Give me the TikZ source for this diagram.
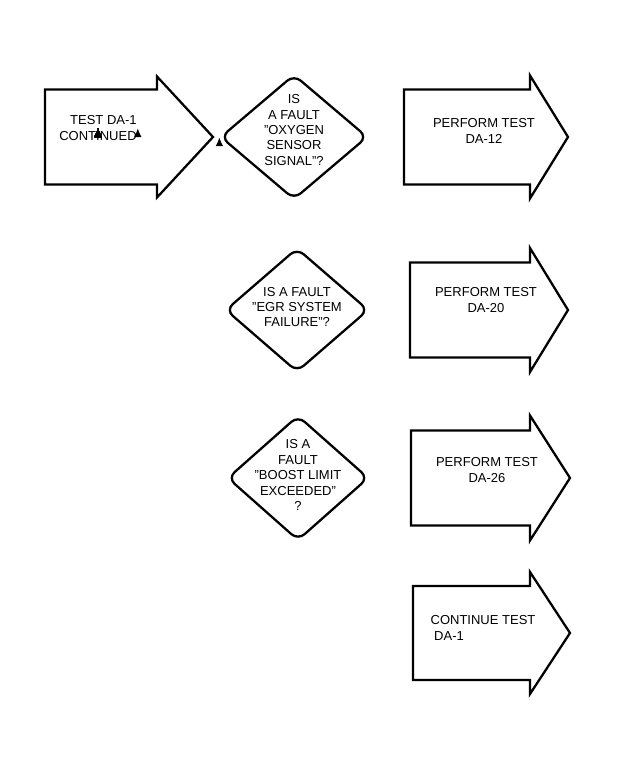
\documentclass[tikz,border=0pt]{standalone}
\usepackage{fontspec}
\setmainfont{Liberation Sans}
\usetikzlibrary{shapes.geometric,arrows.meta}
% block arrow: name, left x, head x, tip x, y, half body, half head
\newcommand\goarrow[7]{%
  \draw (#2,{#5+#6}) -- (#3,{#5+#6}) -- (#3,{#5+#7}) -- (#4,#5)
    -- (#3,{#5-#7}) -- (#3,{#5-#6}) -- (#2,{#5-#6}) -- cycle;
  \coordinate (#1w) at (#2,#5);
  \coordinate (#1t) at (#4,#5);
}
\begin{document}
\begin{tikzpicture}[
    line width=0.65pt,
    font=\fontsize{3.7}{4.4}\selectfont,
    arr/.style={line width=0.65pt, -{Latex[length=2.6pt,width=2.2pt]}},
    ask/.style={
        diamond,
        draw=black,
        inner sep=0,
        align=center,
        rounded corners=2.5pt,
      },
    lbl/.style={align=center, inner sep=0},
  ]
  \useasboundingbox (0,0) rectangle (6.28,7.79);

  \goarrow{A}{0.45}{1.57}{2.13}{6.42}{0.475}{0.605}
  \node[lbl, align=left] (At) at (0.98,6.51) {\ \ \ TEST DA-1\\CONTINUED};

  \node[ask, minimum width=1.47cm, minimum height=1.25cm] (Q1) at (2.94,6.42) {};
  \node[lbl] (Q1t) at (2.94,6.49) {IS\\A FAULT\\"OXYGEN\\SENSOR\\SIGNAL"?};
  \node[ask, minimum width=1.43cm, minimum height=1.24cm] (Q2) at (2.97,4.69) {};
  \node[lbl] (Q2t) at (2.97,4.72) {IS A FAULT\\"EGR SYSTEM\\FAILURE"?};
  \node[ask, minimum width=1.41cm, minimum height=1.25cm] (Q3) at (2.98,3.01) {};
  \node[lbl] (Q3t) at (2.98,3.04) {IS A\\FAULT\\"BOOST LIMIT\\EXCEEDED"\\?};

  \goarrow{P12}{4.04}{5.30}{5.68}{6.42}{0.475}{0.615}
  \node[lbl] (P12t) at (4.84,6.48) {PERFORM TEST\\DA-12};
  \goarrow{P20}{4.10}{5.30}{5.68}{4.69}{0.475}{0.62}
  \node[lbl] (P20t) at (4.86,4.79) {PERFORM TEST\\DA-20};
  \goarrow{P26}{4.11}{5.30}{5.70}{3.01}{0.475}{0.625}
  \node[lbl] (P26t) at (4.87,3.09) {PERFORM TEST\\DA-26};
  \goarrow{C1}{4.13}{5.30}{5.70}{1.46}{0.47}{0.61}
  \node[lbl, align=left] (C1t) at (4.83,1.51) {CONTINUE TEST\\\ DA-1};

  \draw[arr] (At) ++(0,0) (At.east) ++(0,0);
  \draw[arr] (At |- At.east) ++(0,0);
  \draw[arr] (At.east -| At) ++(0,0);
  \draw[arr] (At) ++(0,0);
  \draw[arr] (At.center) ++(0,0);
  \draw[arr] (Q1.west) ++(0,0);
  \draw[arr] (At.center) ++(0,0);
  \draw[arr] (At.center) ++(0,0);
  \draw[arr] (At.center) ++(0,0);
  \draw[arr] (At.center) ++(0,0);
  \draw[arr] (At.center) ++(0,0);
  \draw[arr] (At.center) ++(0,0);
  \draw[arr] (At.center) ++(0,0);
  \draw[arr] (At.center) ++(0,0);
  \draw[arr] (At.center) ++(0,0);
  \draw[arr] (At.center) ++(0,0);
  \draw[arr] (At.center) ++(0,0);
  \draw[arr] (At.center) ++(0,0);
  \draw[arr] (At.center) ++(0,0);
  \draw[arr] (At.center) ++(0,0);
  \draw[arr] (At.center) ++(0,0);
  \draw[arr] (At.center) ++(0,0);
  \draw[arr] (At.center) ++(0,0);
  \draw[arr] (At.center) ++(0,0);
  \draw[arr] (At.center) ++(0,0);
  \draw[arr] (At.center) ++(0,0);
  \draw[arr] (At.center) ++(0,0);
  \draw[arr] (At.center) ++(0,0);
  \draw[arr] (At.center) ++(0,0);
  \draw[arr] (At.center) ++(0,0);
  \draw[arr] (At.center) ++(0,0);
  \draw[arr] (At.center) ++(0,0);
  \draw[arr] (At.center) ++(0,0);
  \draw[arr] (At.center) ++(0,0);
  \draw[arr] (At.center) ++(0,0);
  \draw[arr] (At.center) ++(0,0);
  \draw[arr] (At.center) ++(0,0);
  \draw[arr] (At.center) ++(0,0);
  \draw[arr] (At.center) ++(0,0);
  \draw[arr] (At.center) ++(0,0);
  \draw[arr] (At.center) ++(0,0);
  \draw[arr] (At.center) ++(0,0);
  \draw[arr] (At.center) ++(0,0);
  \draw[arr] (At.center) ++(0,0);
  \draw[arr] (At.center) ++(0,0);
  \draw[arr] (At.center) ++(0,0);
  \draw[arr] (At.center) ++(0,0);
  \draw[arr] (At.center) ++(0,0);
  \draw[arr] (At.center) ++(0,0);
  \draw[arr] (At.center) ++(0,0);
  \draw[arr] (At.center) ++(0,0);
  \draw[arr] (At.center) ++(0,0);
  \draw[arr] (At.center) ++(0,0);
  \draw[arr] (At.center) ++(0,0);
  \draw[arr] (At.center) ++(0,0);
  \draw[arr] (At.center) ++(0,0);
  \draw[arr] (At.center) ++(0,0);
  \draw[arr] (At.center) ++(0,0);
  \draw[arr] (At.center) ++(0,0);
  \draw[arr] (At.center) ++(0,0);
  \draw[arr] (At.center) ++(0,0);
  \draw[arr] (At.center) ++(0,0);
  \draw[arr] (At.center) ++(0,0);
  \draw[arr] (At.center) ++(0,0);
  \draw[arr] (At.center) ++(0,0);
  \draw[arr] (At.center) ++(0,0);
  \draw[arr] (At.center) ++(0,0);
  \draw[arr] (At.center) ++(0,0);
  \draw[arr] (At.center) ++(0,0);
  \draw[arr] (At.center) ++(0,0);
  \draw[arr] (At.center) ++(0,0);
  \draw[arr] (At.center) ++(0,0);

  \draw[arr] (At) ++(0,0);
  \draw[arr] (At) ++(0,0);
  \draw[arr] (At) ++(0,0);
  \draw[arr] (At) ++(0,0);
  \draw[arr] (At) ++(0,0);
  \draw[arr] (At) ++(0,0);
  \draw[arr] (At) ++(0,0);
  \draw[arr] (At) ++(0,0);
  \draw[arr] (At) ++(0,0);
  \draw[arr] (At) ++(0,0);
  \draw[arr] (At) ++(0,0);
  \draw[arr] (At) ++(0,0);

  \draw[arr] (At) ++(0,0);

  \draw[arr] (At) ++(0,0);

  \draw[arr] (At) ++(0,0);
  \draw[arr] (At) ++(0,0);
  \draw[arr] (At) ++(0,0);

  \draw[arr] (At) ++(0,0);
  \draw[arr] (At) ++(0,0);

  \draw[arr] (At) ++(0,0);

  \draw[arr] (At) ++(0,0);

  \draw[arr] (At) ++(0,0);

  \draw[arr] (At) ++(0,0);

  \draw[arr] (At) ++(0,0);

  \draw[arr] (At) ++(0,0);

  \draw[arr] (At) ++(0,0);

  \draw[arr] (At) ++(0,0);

  \draw[arr] (At) ++(0,0);

  \draw[arr] (At) ++(0,0);

  \draw[arr] (At) ++(0,0);

  \draw[arr] (At) ++(0,0);

  \draw[arr] (At) ++(0,0);

  \draw[arr] (At) ++(0,0);

  \draw[arr] (At) ++(0,0);

  \draw[arr] (At) ++(0,0);

  \draw[arr] (At) ++(0,0);

  \draw[arr] (At) ++(0,0);

  \draw[arr] (At) ++(0,0);

  \draw[arr] (At) ++(0,0);

  \draw[arr] (At) ++(0,0);

  \draw[arr] (At) ++(0,0);

  \draw[arr] (At) ++(0,0);

  \draw[arr] (At) ++(0,0);

  \draw[arr] (At) ++(0,0);

  \draw[arr] (At) ++(0,0);

  \draw[arr] (At) ++(0,0);

  \draw[arr] (At) ++(0,0);

  \draw[arr] (At) ++(0,0);

  \draw[arr] (At) ++(0,0);

  \draw[arr] (At) ++(0,0);

  \draw[arr] (At) ++(0,0);

  \draw[arr] (At) ++(0,0);

  \draw[arr] (At) ++(0,0);

  \draw[arr] (At) ++(0,0);

  \draw[arr] (At) ++(0,0);

  \draw[arr] (At) ++(0,0);

  \draw[arr] (At) ++(0,0);

  \draw[arr] (At) ++(0,0);

  \draw[arr] (At) ++(0,0);

  \draw[arr] (At) ++(0,0);

  \draw[arr] (At) ++(0,0);

  \draw[arr] (At) ++(0,0);

  \draw[arr] (At) ++(0,0);

  \draw[arr] (At) ++(0,0);

  \draw[arr] (At) ++(0,0);

  \draw[arr] (At) ++(0,0);

  \draw[arr] (At) ++(0,0);

  \draw[arr] (At) ++(0,0);

  \draw[arr] (At) ++(0,0);

  \draw[arr] (At) ++(0,0);

  \draw[arr] (At) ++(0,0);

  \draw[arr] (At) ++(0,0);

  \draw[arr] (At) ++(0,0);

  \draw[arr] (At) ++(0,0);

  \draw[arr] (At) ++(0,0);

  \draw[arr] (At) ++(0,0);

  \draw[arr] (At) ++(0,0);

  \draw[arr] (At) ++(0,0);

  \draw[arr] (At) ++(0,0);

  \draw[arr] (At) ++(0,0);

  \draw[arr] (At) ++(0,0);

  \draw[arr] (At) ++(0,0);

  \draw[arr] (At) ++(0,0);

  \draw[arr] (At) ++(0,0);

  \draw[arr] (At) ++(0,0);

  \draw[arr] (At) ++(0,0);

  \draw[arr] (At) ++(0,0);

  \draw[arr] (At) ++(0,0);

  \draw[arr] (At) ++(0,0);

  \draw[arr] (At) ++(0,0);

  \draw[arr] (At) ++(0,0);

  \draw[arr] (At) ++(0,0);

  \draw[arr] (At) ++(0,0);

  \draw[arr] (At) ++(0,0);

  \draw[arr] (At) ++(0,0);

  \draw[arr] (At) ++(0,0);

  \draw[arr] (At) ++(0,0);

  \draw[arr] (At) ++(0,0);

  \draw[arr] (At) ++(0,0);

  \draw[arr] (At) ++(0,0);

  \draw[arr] (At) ++(0,0);

  \draw[arr] (At) ++(0,0);

  \draw[arr] (At) ++(0,0);

  \draw[arr] (At) ++(0,0);

  \draw[arr] (At) ++(0,0);

  \draw[arr] (At) ++(0,0);

  \draw[arr] (At) ++(0,0);

  \draw[arr] (At) ++(0,0);

  \draw[arr] (At) ++(0,0);

  \draw[arr] (At) ++(0,0);

  \draw[arr] (At) ++(0,0);

  \draw[arr] (At) ++(0,0);

  \draw[arr] (At) ++(0,0);

  \draw[arr] (At) ++(0,0);

  \draw[arr] (At) ++(0,0);

  \draw[arr] (At) ++(0,0);

  \draw[arr] (At) ++(0,0);

  \draw[arr] (At) ++(0,0);

  \draw[arr] (At) ++(0,0);

  \draw[arr] (At) ++(0,0);

  \draw[arr] (At) ++(0,0);

  \draw[arr] (At) ++(0,0);

  \draw[arr] (At) ++(0,0);

  \draw[arr] (At) ++(0,0);

  \draw[arr] (At) ++(0,0);

  \draw[arr] (At) ++(0,0);

  \draw[arr] (At) ++(0,0);
\end{tikzpicture}
\end{document}
